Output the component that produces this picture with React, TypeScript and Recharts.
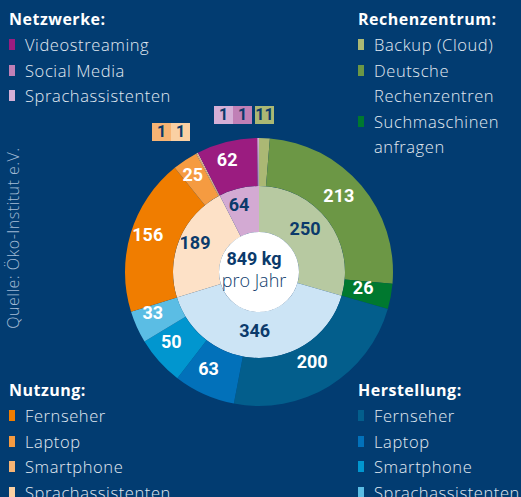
import { PieChart, Pie, Cell } from 'recharts'

const BG = '#023c71'
const NAVY = '#0b3a6b'

// inner ring: group totals (kg CO2 per year)
const groupNames = ['Rechenzentrum', 'Herstellung', 'Nutzung', 'Netzwerke']
const groupTotals = [250, 346, 189, 64]
const groupColors = ['#b7c9a1', '#cce4f5', '#fde1c7', '#d3aad3']

// outer ring, per group
const rechenzentrumValues = [11, 213, 26]
const rechenzentrumColors = ['#abb874', '#6c9745', '#00782f']

const herstellungLabels = ['Fernseher', 'Laptop', 'Smartphone', 'Sprachassistenten']
const herstellungValues = [200, 63, 50, 33]
const herstellungColors = ['#035e8c', '#0271ba', '#0196cf', '#5bbde4']

const nutzungLabels = ['Fernseher', 'Laptop', 'Smartphone', 'Sprachassistenten']
const nutzungValues = [156, 25, 1, 1]
const nutzungColors = ['#f07d00', '#f59b41', '#f7b474', '#fad0a3']

const netzwerkeLabels = ['Videostreaming', 'Social Media', 'Sprachassistenten']
const netzwerkeValues = [62, 1, 1]
const netzwerkeColors = ['#9b1c80', '#c080b6', '#d5afd6']

const TOTAL = 849

const CX = 254
const CY = 267
const RAD = Math.PI / 180
const FONT = 'Roboto, "Liberation Sans", sans-serif'
const TEXT_FONT = '"Open Sans", "Liberation Sans", sans-serif'

// angle span (clockwise from 12 o'clock) of each group, from the inner totals
function groupSpan(idx: number) {
  const sum = groupTotals.reduce((a, b) => a + b, 0)
  const before = groupTotals.slice(0, idx).reduce((a, b) => a + b, 0)
  const a = (before / sum) * 360
  const b = ((before + groupTotals[idx]) / sum) * 360
  return { startAngle: 90 - a, endAngle: 90 - b }
}

const makeLabel = (r: number, color: string, min: number) => (props: any) => {
  const { midAngle, value } = props
  if (value < min) return null
  const x = CX + r * Math.cos(-midAngle * RAD)
  const y = CY + r * Math.sin(-midAngle * RAD)
  return (
    <text
      x={x}
      y={y}
      fill={color}
      textAnchor="middle"
      dominantBaseline="central"
      style={{ fontFamily: FONT, fontWeight: 700, fontSize: 18 }}
    >
      {value}
    </text>
  )
}

// small slices get their labels in boxes above the chart
const outerLabel = makeLabel(111, '#ffffff', 20)
const innerLabel = makeLabel(64, NAVY, 20)

const outerGroups = [
  { values: rechenzentrumValues, colors: rechenzentrumColors },
  { values: herstellungValues, colors: herstellungColors },
  { values: nutzungValues, colors: nutzungColors },
  { values: netzwerkeValues, colors: netzwerkeColors },
]

function LegendBlock({
  title,
  labels,
  colors,
  left,
  top,
}: {
  title: string
  labels: string[]
  colors: (string | null)[]
  left: number
  top: number
}) {
  return (
    <div style={{ position: 'absolute', left, top, fontFamily: TEXT_FONT }}>
      <div style={{ color: '#ffffff', fontWeight: 700, fontSize: 16, height: 25, lineHeight: '25px', letterSpacing: 0.5 }}>{title}</div>
      {labels.map((l, i) => (
        <div
          key={i}
          style={{
            position: 'relative', paddingLeft: 16, height: 25.5, lineHeight: '25.5px', fontSize: 16.5,
            fontWeight: 300, color: '#e3eaf2', whiteSpace: 'nowrap', letterSpacing: 0.6,
          }}
        >
          {colors[i] && (
            <span style={{ position: 'absolute', left: 0, top: 7, width: 6, height: 11, background: colors[i] as string }} />
          )}
          {l}
        </div>
      ))}
    </div>
  )
}

function SmallBox({ value, color, left, top, width }: { value: number; color: string; left: number; top: number; width: number }) {
  return (
    <div
      style={{
        position: 'absolute', left, top, width, height: 18, background: color, color: NAVY,
        fontFamily: FONT, fontWeight: 700, fontSize: 16, lineHeight: '18px', textAlign: 'center',
      }}
    >
      {value}
    </div>
  )
}

export default function App() {
  return (
    <div style={{ position: 'absolute', left: 0, top: 0, width: 521, height: 497, background: BG, overflow: 'hidden' }}>
      <PieChart width={521} height={497} style={{ position: 'absolute', left: 0, top: 0 }}>
        <Pie
          data={groupTotals.map((v, i) => ({ name: groupNames[i], value: v }))}
          dataKey="value"
          cx={CX}
          cy={CY}
          startAngle={90}
          endAngle={-270}
          innerRadius={40}
          outerRadius={86}
          stroke="none"
          label={innerLabel}
          labelLine={false}
          isAnimationActive={false}
        >
          {groupTotals.map((_, i) => (
            <Cell key={i} fill={groupColors[i]} />
          ))}
        </Pie>
        {outerGroups.map((g, gi) => {
          const span = groupSpan(gi)
          return (
            <Pie
              key={gi}
              data={g.values.map((v) => ({ value: v }))}
              dataKey="value"
              cx={CX}
              cy={CY}
              startAngle={span.startAngle}
              endAngle={span.endAngle}
              innerRadius={86}
              outerRadius={134}
              stroke="none"
              label={outerLabel}
              labelLine={false}
              isAnimationActive={false}
            >
              {g.values.map((_, i) => (
                <Cell key={i} fill={g.colors[i]} />
              ))}
            </Pie>
          )
        })}
        <Pie
          data={[{ value: TOTAL }]}
          dataKey="value"
          cx={CX}
          cy={CY}
          innerRadius={0}
          outerRadius={40}
          fill="#ffffff"
          stroke="none"
          isAnimationActive={false}
        />
      </PieChart>

      {/* center text */}
      <div style={{ position: 'absolute', left: CX - 40, top: CY - 18, width: 80, textAlign: 'center', color: NAVY }}>
        <div style={{ fontFamily: FONT, fontWeight: 700, fontSize: 18, lineHeight: '20px' }}>{TOTAL} kg</div>
        <div style={{ fontFamily: TEXT_FONT, fontWeight: 300, fontSize: 18, lineHeight: '22px' }}>pro Jahr</div>
      </div>

      {/* small value boxes */}
      <SmallBox value={nutzungValues[2]} color={nutzungColors[2]} left={152} top={123} width={19} />
      <SmallBox value={nutzungValues[3]} color={nutzungColors[3]} left={171} top={123} width={19} />
      <SmallBox value={netzwerkeValues[2]} color={netzwerkeColors[2]} left={214} top={106} width={19} />
      <SmallBox value={netzwerkeValues[1]} color={netzwerkeColors[1]} left={233} top={106} width={19} />
      <SmallBox value={rechenzentrumValues[0]} color={rechenzentrumColors[0]} left={255} top={106} width={19} />

      <LegendBlock title="Netzwerke:" labels={netzwerkeLabels} colors={netzwerkeColors} left={9} top={7} />
      <LegendBlock
        title="Rechenzentrum:"
        labels={['Backup (Cloud)', 'Deutsche', 'Rechenzentren', 'Suchmaschinen', 'anfragen']}
        colors={[rechenzentrumColors[0], rechenzentrumColors[1], null, rechenzentrumColors[2], null]}
        left={358}
        top={7}
      />
      <LegendBlock title="Nutzung:" labels={nutzungLabels} colors={nutzungColors} left={9} top={378} />
      <LegendBlock title="Herstellung:" labels={herstellungLabels} colors={herstellungColors} left={358} top={378} />

      <div
        style={{
          position: 'absolute', left: 13, top: 238, transform: 'translate(-50%, -50%) rotate(-90deg)',
          fontFamily: TEXT_FONT, fontSize: 16, fontWeight: 300, color: '#a5bcd6', whiteSpace: 'nowrap', letterSpacing: 0.5,
        }}
      >
        Quelle: Öko-Institut e.V.
      </div>
    </div>
  )
}
